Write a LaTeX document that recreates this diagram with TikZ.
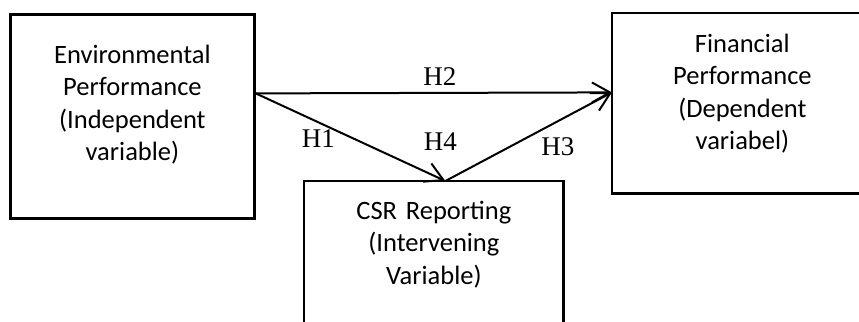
\documentclass[tikz,border=0pt]{standalone}
\usepackage{fontspec}
\setmainfont{Carlito}
\newfontfamily\hypfont{Liberation Serif}
\usetikzlibrary{arrows.meta,positioning}

\begin{document}
\begin{tikzpicture}
      % Define block styles
      \tikzstyle{block} = [rectangle, text width=115pt, align=center, inner sep=2pt, text height=10pt, font=\fontsize{13.25pt}{16.25pt}\selectfont]
      \tikzstyle{border} = [draw, line width=1.4pt]
      \tikzstyle{line} = [draw, line width=1pt, -{Straight Barb[length=9pt,width=10pt,line width=1pt]}]
      \tikzstyle{hyp} = [font=\hypfont\fontsize{13.5pt}{16pt}\selectfont]

      \useasboundingbox (0,0) rectangle (429.5pt,-161pt);

      % Place blocks
      \node [block, border, anchor=north west, minimum width=122pt, minimum height=102pt, text depth=63pt] (env) at (4.5pt,-6.5pt) {Environmental\\Performance\\(Independent\\variable)};
      \node [block, anchor=north west, minimum width=130pt, minimum height=90pt, text depth=61pt] (fin) at (306pt,-6.5pt) {Financial\\Performance\\(Dependent\\variabel)};
      \node [block, anchor=north west, minimum width=129.5pt, minimum height=90pt, text depth=62pt] (csr) at (152pt,-90.5pt) {CSR Reporting\\(Intervening\\Variable)};

      % Box sides (cut by the page edge)
      \path [border] (fin.north east) -- (fin.north west) -- (fin.south west) -- (fin.south east);
      \path [border] (csr.south west) -- (csr.north west) -- (csr.north east) -- (csr.south east);

      % Connector ends
      \coordinate (envout) at ([yshift=11.5pt]env.east);
      \coordinate (finin) at ([yshift=5.5pt]fin.west);
      \coordinate (csrin) at ([xshift=5.75pt]csr.north);

      % Draw lines
      \path [line] (envout) -- node[hyp, pos=0.517, above] (h2) {H2} (finin);
      \path [line] (envout) -- node[hyp, pos=0.33, below] (h1) {H1} (csrin);
      \path [line] (csrin) -- node[hyp, pos=0.53, below right, yshift=2pt] (h3) {H3} (finin);
      \node [hyp] (h4) at ([shift={(-2.5pt,19.5pt)}]csrin) {H4};
    \end{tikzpicture}
\end{document}
